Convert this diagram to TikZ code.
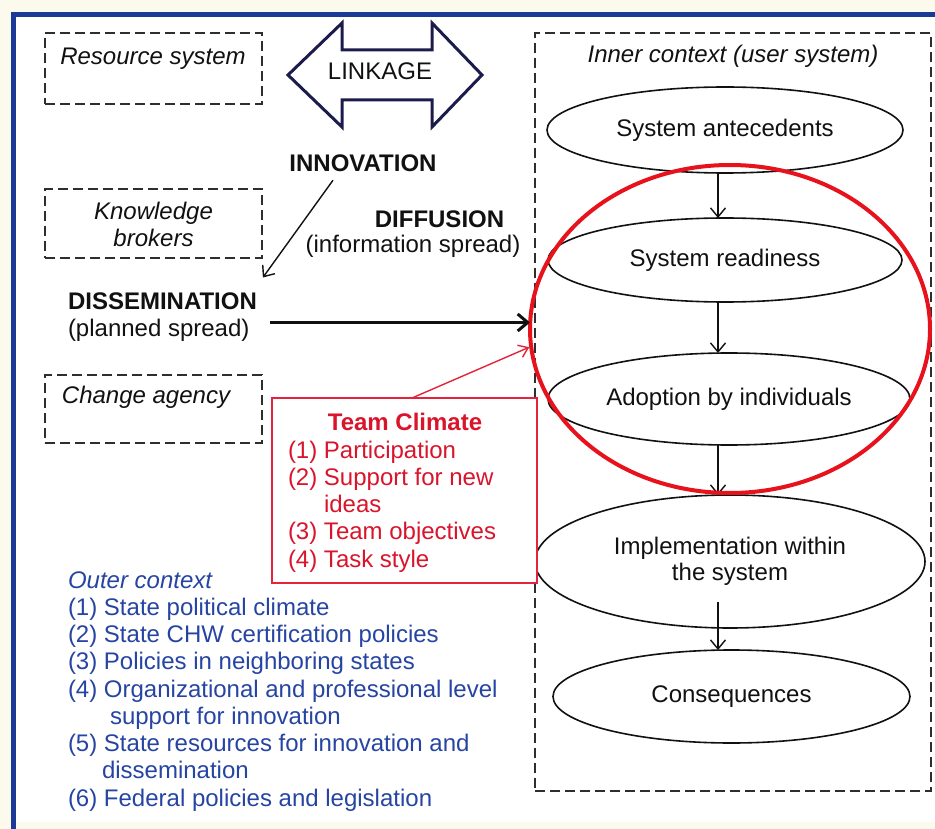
\documentclass[tikz,border=0pt]{standalone}
\usepackage{fontspec}
\setmainfont{Liberation Sans}
\usetikzlibrary{arrows.meta,shapes.geometric}

\definecolor{framecol}{HTML}{1B3A97}
\definecolor{outercol}{HTML}{2645A3}
\definecolor{ringred}{HTML}{E8121C}
\definecolor{climred}{HTML}{D9142B}
\definecolor{boxred}{HTML}{E3243C}
\definecolor{linkcol}{HTML}{1C1C4C}
\definecolor{dashcol}{HTML}{2E2E2E}
\definecolor{inkcol}{HTML}{111111}
\definecolor{paper}{HTML}{FCFAEC}

\newcommand{\txtsize}{\fontsize{24}{27.25}\selectfont}

\begin{document}
\begin{tikzpicture}[x=1pt, y=-1pt,
  every node/.style={font=\txtsize, text=inkcol, inner sep=0pt, outer sep=0pt},
  dashbox/.style={rectangle, draw=dashcol, line width=1.8pt, dash pattern=on 10pt off 5pt},
  stage/.style={ellipse, draw=inkcol, line width=1.6pt, fill=white, align=center},
  flow/.style={draw=inkcol, line width=1.4pt, -{Straight Barb[length=9pt,width=15pt]}},
  push/.style={draw=inkcol, line width=3pt, -{Straight Barb[length=10pt,width=17pt]}},
  redflow/.style={draw=boxred, line width=1.4pt, -{Straight Barb[length=9pt,width=13pt]}},
]
\useasboundingbox (0,0) rectangle (935,829);

% page and blue frame
\fill[paper] (0,0) rectangle (935,829);
\fill[white] (14,14) rectangle (935,822);
\draw[framecol, line width=5pt, line join=miter] (13.5,829) -- (13.5,14.5) -- (935,14.5);

% resource side boxes (multi-line nodes sit on the baseline of their last line)
\node[dashbox, minimum width=217pt, minimum height=71pt] (resbox) at (153.5,68.5) {};
\node[anchor=base, font=\txtsize\itshape] (restxt) at (153,65) {Resource system};

\node[dashbox, minimum width=217pt, minimum height=69pt] (kbbox) at (153.5,223.5) {};
\node[anchor=base, align=center, font=\txtsize\itshape] (kbtxt) at (153.5,246.5) {Knowledge\\brokers};

\node[dashbox, minimum width=217pt, minimum height=68pt] (cabox) at (153.5,409) {};
\node[anchor=base, font=\txtsize\itshape] (catxt) at (146,403) {Change agency};

% linkage double arrow
\draw[linkcol, line width=3pt, line join=miter, fill=white]
  (288,75) -- (342,23) -- (342,50) -- (432,50) -- (432,23) -- (482,75)
  -- (432,127) -- (432,100) -- (342,100) -- (342,127) -- cycle;
\node[anchor=base] (linkage) at (380,80) {LINKAGE};

% labels of the spread routes
\node[anchor=base, font=\txtsize\bfseries] (innov) at (363,172) {INNOVATION};
\node[anchor=base, font=\txtsize\bfseries] (diff) at (439.5,228) {DIFFUSION};
\node[anchor=base] (diffsub) at (413,253) {(information spread)};
\node[anchor=base west, align=left] (diss) at (68,336.5) {\textbf{DISSEMINATION}\\(planned spread)};

\draw[flow] ([xshift=-30pt,yshift=-8pt]innov.south) -- ([xshift=6pt,yshift=15pt]diss.north east);

% inner context
\node[dashbox, line width=1.5pt, minimum width=396pt, minimum height=758pt, anchor=north west] (inner) at (535,33) {};
\node[anchor=base, font=\txtsize\itshape] (innertxt) at (733,63) {Inner context (user system)};

\node[stage, minimum width=356pt, minimum height=86pt] (ante) at (725,130) {System antecedents};
\node[stage, minimum width=354pt, minimum height=84pt] (ready) at (725,260) {System readiness};
\node[stage, minimum width=362pt, minimum height=92pt] (adopt) at (729,399) {Adoption by individuals};
\node[stage, minimum width=390pt, minimum height=133pt, font=\fontsize{24}{26}\selectfont] (impl) at (730,561.5) {Implementation within\\the system};
\node[stage, minimum width=357pt, minimum height=93pt] (cons) at (731.5,696.5) {Consequences};

\coordinate (axis) at (718,0);
\draw[flow] (ante.south -| axis) -- (ready.north -| axis);
\draw[flow] (ready.south -| axis) -- (adopt.north -| axis);
\draw[flow] (adopt.south -| axis) -- (impl.north -| axis);
\draw[flow] ([yshift=-40pt]impl.center -| axis) -- (cons.north -| axis);

% highlighted stages
\node[ellipse, draw=ringred, line width=4pt, minimum width=400pt, minimum height=328pt] (focus) at (730,329) {};

% team climate
\node[rectangle, draw=boxred, line width=1.8pt, fill=white, minimum width=265pt, minimum height=185pt, anchor=north west] (team) at (272,398) {};
\node[anchor=base, font=\txtsize\bfseries, text=climred] (teamtitle) at (405,430) {Team Climate};
\node[anchor=base west, align=left, text=climred] (teamlist) at (288,567)
  {(1) Participation\\(2) Support for new\\\phantom{(2) }ideas\\(3) Team objectives\\(4) Task style};

\draw[redflow, shorten >=2pt] ([xshift=7.5pt]team.north) -- (focus.185);
\draw[push] ([xshift=13pt,yshift=-5.5pt]diss.east) -- ([yshift=-5.5pt]diss.east -| focus.west);

% outer context
\node[anchor=base west, align=left, text=outercol] (outer) at (68,806)
  {\textit{Outer context}\\
   (1) State political climate\\
   (2) State CHW certification policies\\
   (3) Policies in neighboring states\\
   (4) Organizational and professional level\\
   \hspace*{42pt}support for innovation\\
   (5) State resources for innovation and\\
   \hspace*{34pt}dissemination\\
   (6) Federal policies and legislation};
\end{tikzpicture}
\end{document}
